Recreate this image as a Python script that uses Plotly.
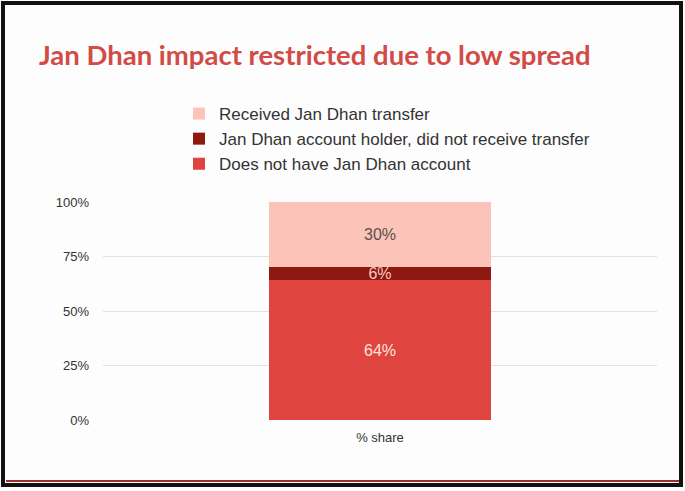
import plotly.graph_objects as go

categories = ["% share"]
series_names = ["Does not have Jan Dhan account",
                "Jan Dhan account holder, did not receive transfer",
                "Received Jan Dhan transfer"]
series_values = [[64], [6], [30]]
series_labels = [["64%"], ["6%"], ["30%"]]
series_colors = ["#e0443e", "#8e1812", "#fcc3b8"]
label_colors = ["#fbe3de", "#f6c8c0", "#5a5050"]
tick_vals = [0, 25, 50, 75, 100]
tick_text = ["0%", "25%", "50%", "75%", "100%"]

W, H = 685, 491
L, R, T, B = 103, 28, 202, 71
pw, ph = W - L - R, H - T - B

def px(x):
    return (x - L) / pw

def py(y):
    return (H - B - y) / ph

fig = go.Figure()
for name, vals, labs, col, lc in zip(series_names, series_values, series_labels, series_colors, label_colors):
    fig.add_trace(go.Bar(
        x=categories, y=vals, name=name, marker=dict(color=col, line=dict(width=0)),
        text=labs, textposition="inside", insidetextanchor="middle", constraintext="none",
        textfont=dict(family="Liberation Sans, Arial", size=16, color=lc),
        width=0.4, hoverinfo="skip"))

fig.update_layout(
    width=W, height=H,
    margin=dict(l=L, r=R, t=T, b=B, autoexpand=False),
    paper_bgcolor="#fdfdfd", plot_bgcolor="#fdfdfd",
    barmode="stack",
    showlegend=True,
    legend=dict(x=px(179), y=py(96), xanchor="left", yanchor="top",
                traceorder="reversed",
                font=dict(family="Liberation Sans, Arial", size=17, color="#333333"),
                bgcolor="rgba(0,0,0,0)", itemwidth=30),
    title=dict(text="Jan Dhan impact restricted due to low spread",
               x=39 / W, xanchor="left", xref="container",
               y=1 - 55 / H, yanchor="middle", yref="container",
               font=dict(family="Lato, Open Sans", size=27.5, color="#d24b46", weight="bold")),
    xaxis=dict(showgrid=False, showline=False, ticks="", zeroline=False, ticklabelstandoff=8,
               tickfont=dict(family="Liberation Sans, Arial", size=13, color="#333333")),
    yaxis=dict(range=[0, 100], tickvals=tick_vals, ticktext=tick_text,
               showgrid=True, gridcolor="#e2e2e2", gridwidth=1, zeroline=False,
               showline=False, ticks="", ticklabelstandoff=13,
               tickfont=dict(family="Liberation Sans, Arial", size=13, color="#333333")),
)

fig.add_shape(type="line", xref="paper", yref="paper",
              x0=px(6), x1=px(679), y0=py(481), y1=py(481),
              line=dict(color="#9a3030", width=2))
fig.add_shape(type="rect", xref="paper", yref="paper",
              x0=px(3), x1=px(681), y0=py(485), y1=py(3),
              line=dict(color="#111111", width=4), fillcolor="rgba(0,0,0,0)")

fig.write_html("out.html", config={"displayModeBar": False},
               post_script="document.body.style.margin='0';document.body.style.overflow='hidden';")
